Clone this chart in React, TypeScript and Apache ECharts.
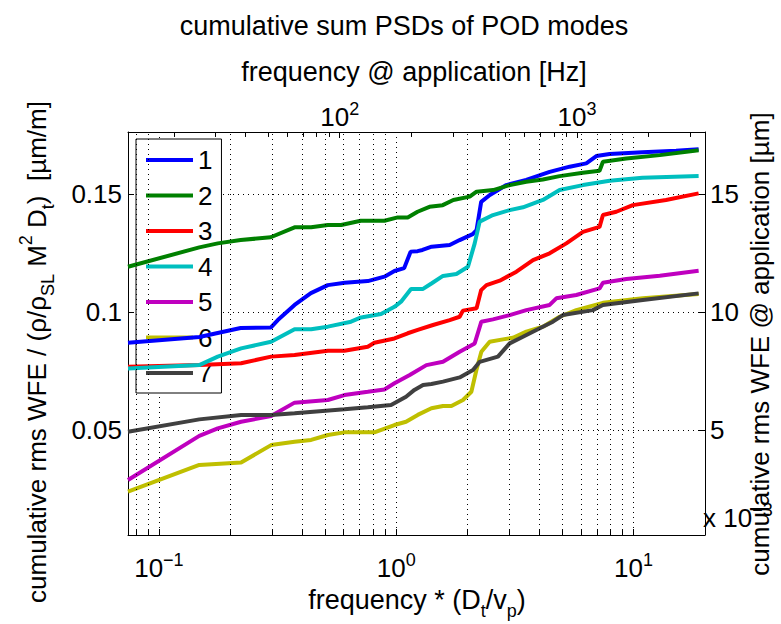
import React, { useEffect, useRef } from 'react';
import * as echarts from 'echarts';

const FONT = '"Liberation Sans", Arial, Helvetica, sans-serif';

const modeNames = ['1', '2', '3', '4', '5', '6', '7'];
const modeColors = ['#0000ff', '#008000', '#ff0000', '#00bfbf', '#bf00bf', '#bfbf00', '#404040'];

const mode1: [number, number][] = [
  [0.0741, 0.087], [0.148, 0.0894], [0.221, 0.0932], [0.296, 0.0934], [0.317, 0.0966], [0.373, 0.103],
  [0.437, 0.108], [0.515, 0.1114], [0.607, 0.1124], [0.759, 0.1131], [0.892, 0.115], [0.983, 0.1174],
  [1.08, 0.1186], [1.15, 0.1256], [1.23, 0.1258], [1.29, 0.1263], [1.41, 0.1277], [1.68, 0.1284],
  [1.85, 0.1305], [2.1, 0.133], [2.18, 0.1347], [2.28, 0.1467], [2.48, 0.1496], [2.91, 0.1538],
  [3.53, 0.156], [4.43, 0.1594], [5.38, 0.1616], [6.32, 0.163], [6.97, 0.1661], [7.93, 0.167],
  [10.9, 0.1677], [15.1, 0.1684], [18.8, 0.169],
];
const mode2: [number, number][] = [
  [0.0741, 0.1192], [0.148, 0.1274], [0.177, 0.1291], [0.221, 0.1305], [0.296, 0.1317], [0.373, 0.1359],
  [0.438, 0.1359], [0.515, 0.1369], [0.586, 0.1369], [0.709, 0.1387], [0.892, 0.1387], [1.015, 0.1401],
  [1.118, 0.1401], [1.23, 0.1425], [1.38, 0.1446], [1.57, 0.1453], [1.74, 0.1475], [2.04, 0.1489],
  [2.18, 0.151], [2.56, 0.1517], [3.01, 0.1538], [3.53, 0.1552], [4.15, 0.1562], [4.88, 0.1576],
  [6.12, 0.159], [7.19, 0.1599], [7.43, 0.1637], [9.32, 0.1651], [12.9, 0.1665], [18.8, 0.1686],
];
const mode3: [number, number][] = [
  [0.0741, 0.0768], [0.148, 0.0775], [0.222, 0.0783], [0.297, 0.0811], [0.373, 0.0818], [0.515, 0.0836],
  [0.605, 0.0836], [0.759, 0.0853], [0.809, 0.087], [0.983, 0.0888], [1.118, 0.091], [1.232, 0.0924],
  [1.429, 0.0945], [1.68, 0.0966], [1.85, 0.098], [1.91, 0.1006], [2.18, 0.1016], [2.28, 0.1093],
  [2.4, 0.1114], [2.73, 0.1133], [3.21, 0.1171], [3.77, 0.122], [4.43, 0.1249], [5.21, 0.1291],
  [6.12, 0.134], [7.19, 0.1361], [7.43, 0.1411], [8.46, 0.1425], [9.93, 0.1453], [13.7, 0.1475],
  [18.8, 0.1503],
];
const mode4: [number, number][] = [
  [0.0741, 0.0761], [0.148, 0.0775], [0.177, 0.0811], [0.222, 0.0846], [0.297, 0.0874], [0.373, 0.0927],
  [0.438, 0.0927], [0.515, 0.0938], [0.645, 0.0959], [0.711, 0.0977], [0.863, 0.0992], [0.983, 0.1022],
  [1.048, 0.1044], [1.154, 0.1098], [1.297, 0.1098], [1.407, 0.1121], [1.574, 0.1153], [1.793, 0.1161],
  [2.006, 0.1192], [2.141, 0.1291], [2.247, 0.1383], [2.556, 0.1411], [3.006, 0.1432], [3.42, 0.1444],
  [4.15, 0.1475], [4.88, 0.1517], [6.12, 0.1538], [7.93, 0.1556], [10.9, 0.1569], [18.8, 0.1576],
];
const mode5: [number, number][] = [
  [0.0741, 0.0288], [0.148, 0.0475], [0.177, 0.0507], [0.222, 0.0535], [0.297, 0.0559], [0.373, 0.0616],
  [0.515, 0.0627], [0.605, 0.0648], [0.759, 0.0662], [0.892, 0.0672], [0.983, 0.0698], [1.14, 0.0733],
  [1.34, 0.0775], [1.574, 0.0789], [1.851, 0.0832], [2.141, 0.0867], [2.284, 0.0959], [2.556, 0.0969],
  [3.006, 0.0987], [3.533, 0.1008], [4.43, 0.103], [4.727, 0.1058], [5.737, 0.1072], [7.19, 0.11],
  [7.43, 0.1124], [9.32, 0.114], [12.9, 0.1154], [18.8, 0.1175],
];
const mode6: [number, number][] = [
  [0.0741, 0.0239], [0.148, 0.0352], [0.222, 0.0362], [0.297, 0.0436], [0.373, 0.045], [0.438, 0.0458],
  [0.515, 0.0479], [0.605, 0.049], [0.809, 0.049], [0.983, 0.0521], [1.1, 0.0535], [1.232, 0.0564],
  [1.407, 0.0592], [1.574, 0.0602], [1.708, 0.0602], [1.911, 0.0627], [2.073, 0.0662], [2.177, 0.0754],
  [2.284, 0.0832], [2.476, 0.0874], [2.818, 0.0884], [3.104, 0.0891], [3.533, 0.0917], [4.15, 0.0938],
  [4.88, 0.098], [5.737, 0.1008], [7.425, 0.1039], [10.94, 0.1058], [18.8, 0.1076],
];
const mode7: [number, number][] = [
  [0.0741, 0.0493], [0.148, 0.0545], [0.222, 0.0564], [0.297, 0.0564], [0.373, 0.0571], [0.605, 0.0588],
  [0.759, 0.0596], [0.951, 0.0606], [1.1, 0.0641], [1.193, 0.067], [1.297, 0.0691], [1.407, 0.0695],
  [1.574, 0.0705], [1.851, 0.0723], [2.106, 0.0754], [2.247, 0.0789], [2.683, 0.0811], [3.006, 0.0867],
  [3.42, 0.0895], [3.894, 0.0924], [4.574, 0.0959], [5.04, 0.0987], [6.74, 0.1008], [7.425, 0.103],
  [10.94, 0.1051], [18.8, 0.1079],
];
const modeData = [mode1, mode2, mode3, mode4, mode5, mode6, mode7];

// axis extents
const xMin = 0.0741;
const xMax = 20;
const appFactor = 173; // frequency @ application = normalized frequency * factor
const yMin = 0.0055;
const yMax = 0.1763;
const rightFactor = 100; // right axis in units of 1e-3

const bottomMinor = [0.08, 0.09, 0.2, 0.3, 0.4, 0.5, 0.6, 0.7, 0.8, 0.9, 2, 3, 4, 5, 6, 7, 8, 9];
const topMinor = [20, 30, 40, 50, 60, 70, 80, 90, 200, 300, 400, 500, 600, 700, 800, 900, 2000, 3000];

const texts = {
  title: 'cumulative sum PSDs of POD modes',
  top: 'frequency @ application [Hz]',
  right: 'cumulative rms WFE @ application [µm]',
};

const FS = 26;
const FS_X = 27;
const SUP = 18;

const powLabel = (v: number) => {
  const e = Math.log10(v);
  if (Math.abs(e - Math.round(e)) > 1e-6) return '';
  const r = Math.round(e);
  return `{b|10}{s|${r < 0 ? '\u2212' + -r : r}}`;
};
const powRich = {
  b: { fontSize: FS, fontFamily: FONT, color: '#000', lineHeight: 30, verticalAlign: 'bottom' },
  s: { fontSize: SUP, fontFamily: FONT, color: '#000', lineHeight: 14, verticalAlign: 'top' },
};

const App = () => {
  const ref = useRef<HTMLDivElement>(null);
  useEffect(() => {
    const chart = echarts.init(ref.current!, null, { renderer: 'svg' });
    const dotted = { type: [1, 4] as any, color: '#000', width: 1 };
    const tickLen = 0.0021;
    const series: any[] = modeData.map((d, i) => ({
      name: modeNames[i],
      type: 'line',
      data: d,
      xAxisIndex: 0,
      yAxisIndex: 0,
      symbol: 'none',
      showSymbol: false,
      lineStyle: { width: 4, color: modeColors[i] },
      itemStyle: { color: modeColors[i] },
      z: 3,
    }));
    series.unshift({
      name: 'minorGrid',
      type: 'line',
      data: [],
      xAxisIndex: 0,
      yAxisIndex: 0,
      symbol: 'none',
      z: 2,
      markLine: {
        silent: true,
        symbol: ['none', 'none'],
        label: { show: false },
        lineStyle: dotted,
        data: bottomMinor.map((v) => ({ xAxis: v })),
      },
    });
    series.unshift({
      name: 'bottomTicks',
      type: 'line',
      data: [],
      xAxisIndex: 0,
      yAxisIndex: 0,
      symbol: 'none',
      z: 2,
      markLine: {
        silent: true,
        symbol: ['none', 'none'],
        label: { show: false },
        lineStyle: { type: 'solid', color: '#000', width: 1 },
        data: bottomMinor.map((v) => [{ coord: [v, yMin] }, { coord: [v, yMin + tickLen] }]),
      },
    });
    series.unshift({
      name: 'topTicks',
      type: 'line',
      data: [],
      xAxisIndex: 1,
      yAxisIndex: 0,
      symbol: 'none',
      z: 2,
      markLine: {
        silent: true,
        symbol: ['none', 'none'],
        label: { show: false },
        lineStyle: { type: 'solid', color: '#000', width: 1 },
        data: topMinor.map((v) => [{ coord: [v, yMax] }, { coord: [v, yMax - tickLen] }]),
      },
    });

    const option: any = {
      animation: false,
      backgroundColor: '#fff',
      textStyle: { fontFamily: FONT },
      grid: { left: 128, top: 132, width: 577, height: 403, containLabel: false },
      legend: {
        data: modeNames,
        orient: 'vertical',
        left: 136,
        top: 139,
        z: 1,
        padding: [8, 9, 7, 10],
        itemGap: 9.5,
        itemWidth: 47,
        itemHeight: 4,
        icon: 'rect',
        backgroundColor: '#fff',
        borderColor: '#000',
        borderWidth: 1,
        borderRadius: 0,
        selectedMode: false,
        textStyle: { fontSize: FS, fontFamily: FONT, color: '#000', lineHeight: 26 },
      },
      xAxis: [
        {
          type: 'log',
          logBase: 10,
          min: xMin,
          max: xMax,
          position: 'bottom',
          axisLine: { show: true, onZero: false, lineStyle: { color: '#000', width: 1 } },
          axisTick: { show: true, inside: true, length: 6, lineStyle: { color: '#000' } },
          axisLabel: { show: true, margin: 16, formatter: powLabel, rich: powRich, hideOverlap: false },
          splitLine: { show: true, lineStyle: dotted },
          minorTick: { show: false },
        },
        {
          type: 'log',
          logBase: 10,
          min: xMin * appFactor,
          max: xMax * appFactor,
          position: 'top',
          axisLine: { show: true, onZero: false, lineStyle: { color: '#000', width: 1 } },
          axisTick: { show: true, inside: true, length: 6, lineStyle: { color: '#000' } },
          axisLabel: { show: true, margin: 2, formatter: powLabel, rich: powRich, hideOverlap: false },
          splitLine: { show: false },
        },
      ],
      yAxis: [
        {
          type: 'value',
          min: yMin,
          max: yMax,
          splitNumber: 3,
          position: 'left',
          axisLine: { show: true, onZero: false, lineStyle: { color: '#000', width: 1 } },
          axisTick: { show: true, inside: true, length: 6, lineStyle: { color: '#000' } },
          axisLabel: {
            show: true,
            margin: 6,
            fontSize: FS,
            fontFamily: FONT,
            color: '#000',
            formatter: (v: number) => {
              const k = v / 0.05;
              return Math.abs(k - Math.round(k)) > 1e-6 ? '' : String(+(Math.round(k) * 0.05).toFixed(2));
            },
          },
          splitLine: { show: true, lineStyle: dotted },
        },
        {
          type: 'value',
          min: yMin * rightFactor,
          max: yMax * rightFactor,
          splitNumber: 3,
          position: 'right',
          axisLine: { show: true, onZero: false, lineStyle: { color: '#000', width: 1 } },
          axisTick: { show: true, inside: true, length: 6, lineStyle: { color: '#000' } },
          axisLabel: {
            show: true,
            margin: 5,
            fontSize: FS,
            fontFamily: FONT,
            color: '#000',
            formatter: (v: number) => {
              const k = v / 5;
              return Math.abs(k - Math.round(k)) > 1e-6 ? '' : String(Math.round(k) * 5);
            },
          },
          splitLine: { show: false },
        },
      ],
      graphic: [
        {
          type: 'text',
          x: 404,
          y: 26,
          style: { text: texts.title, fontSize: FS_X, fontFamily: FONT, fill: '#000', align: 'center', verticalAlign: 'middle' },
        },
        {
          type: 'text',
          x: 414,
          y: 72,
          style: { text: texts.top, fontSize: FS_X, fontFamily: FONT, fill: '#000', align: 'center', verticalAlign: 'middle' },
        },
        {
          type: 'text',
          x: 417,
          y: 600,
          style: {
            text: '{n|frequency * (D}{sub|t}{n|/v}{sub|p}{n|)}',
            fill: '#000',
            align: 'center',
            verticalAlign: 'middle',
            rich: {
              n: { fontSize: FS_X, fontFamily: FONT, fill: '#000', lineHeight: 40, verticalAlign: 'middle' },
              sub: { fontSize: SUP, fontFamily: FONT, fill: '#000', lineHeight: 20, verticalAlign: 'bottom' },
            },
          },
        },
        {
          type: 'text',
          x: 37,
          y: 352,
          rotation: Math.PI / 2,
          style: {
            text: '{n|cumulative rms WFE / (\u03C1/\u03C1}{sub|SL}{n| M}{sup|2}{n| D}{sub|t}{n|)  [\u00B5m/m]}',
            fill: '#000',
            align: 'center',
            verticalAlign: 'middle',
            rich: {
              n: { fontSize: FS, fontFamily: FONT, fill: '#000', lineHeight: 40, verticalAlign: 'middle' },
              sub: { fontSize: SUP, fontFamily: FONT, fill: '#000', lineHeight: 20, verticalAlign: 'bottom' },
              sup: { fontSize: SUP, fontFamily: FONT, fill: '#000', lineHeight: 20, verticalAlign: 'top' },
            },
          },
        },
        {
          type: 'text',
          x: 760,
          y: 344,
          rotation: Math.PI / 2,
          style: { text: texts.right, fontSize: FS, fontFamily: FONT, fill: '#000', align: 'center', verticalAlign: 'middle' },
        },
        {
          type: 'text',
          x: 703,
          y: 516,
          style: {
            text: '{b|x 10}{s|\u22123}',
            fill: '#000',
            align: 'left',
            verticalAlign: 'middle',
            rich: {
              b: { fontSize: FS, fontFamily: FONT, fill: '#000', lineHeight: 30, verticalAlign: 'bottom' },
              s: { fontSize: SUP, fontFamily: FONT, fill: '#000', lineHeight: 14, verticalAlign: 'top' },
            },
          },
        },
      ],
      series,
    };
    chart.setOption(option);
    return () => chart.dispose();
  }, []);
  return (
    <div
      ref={ref}
      style={{ position: 'fixed', left: 0, top: 0, width: 781, height: 624, background: '#fff' }}
    />
  );
};

export default App;
